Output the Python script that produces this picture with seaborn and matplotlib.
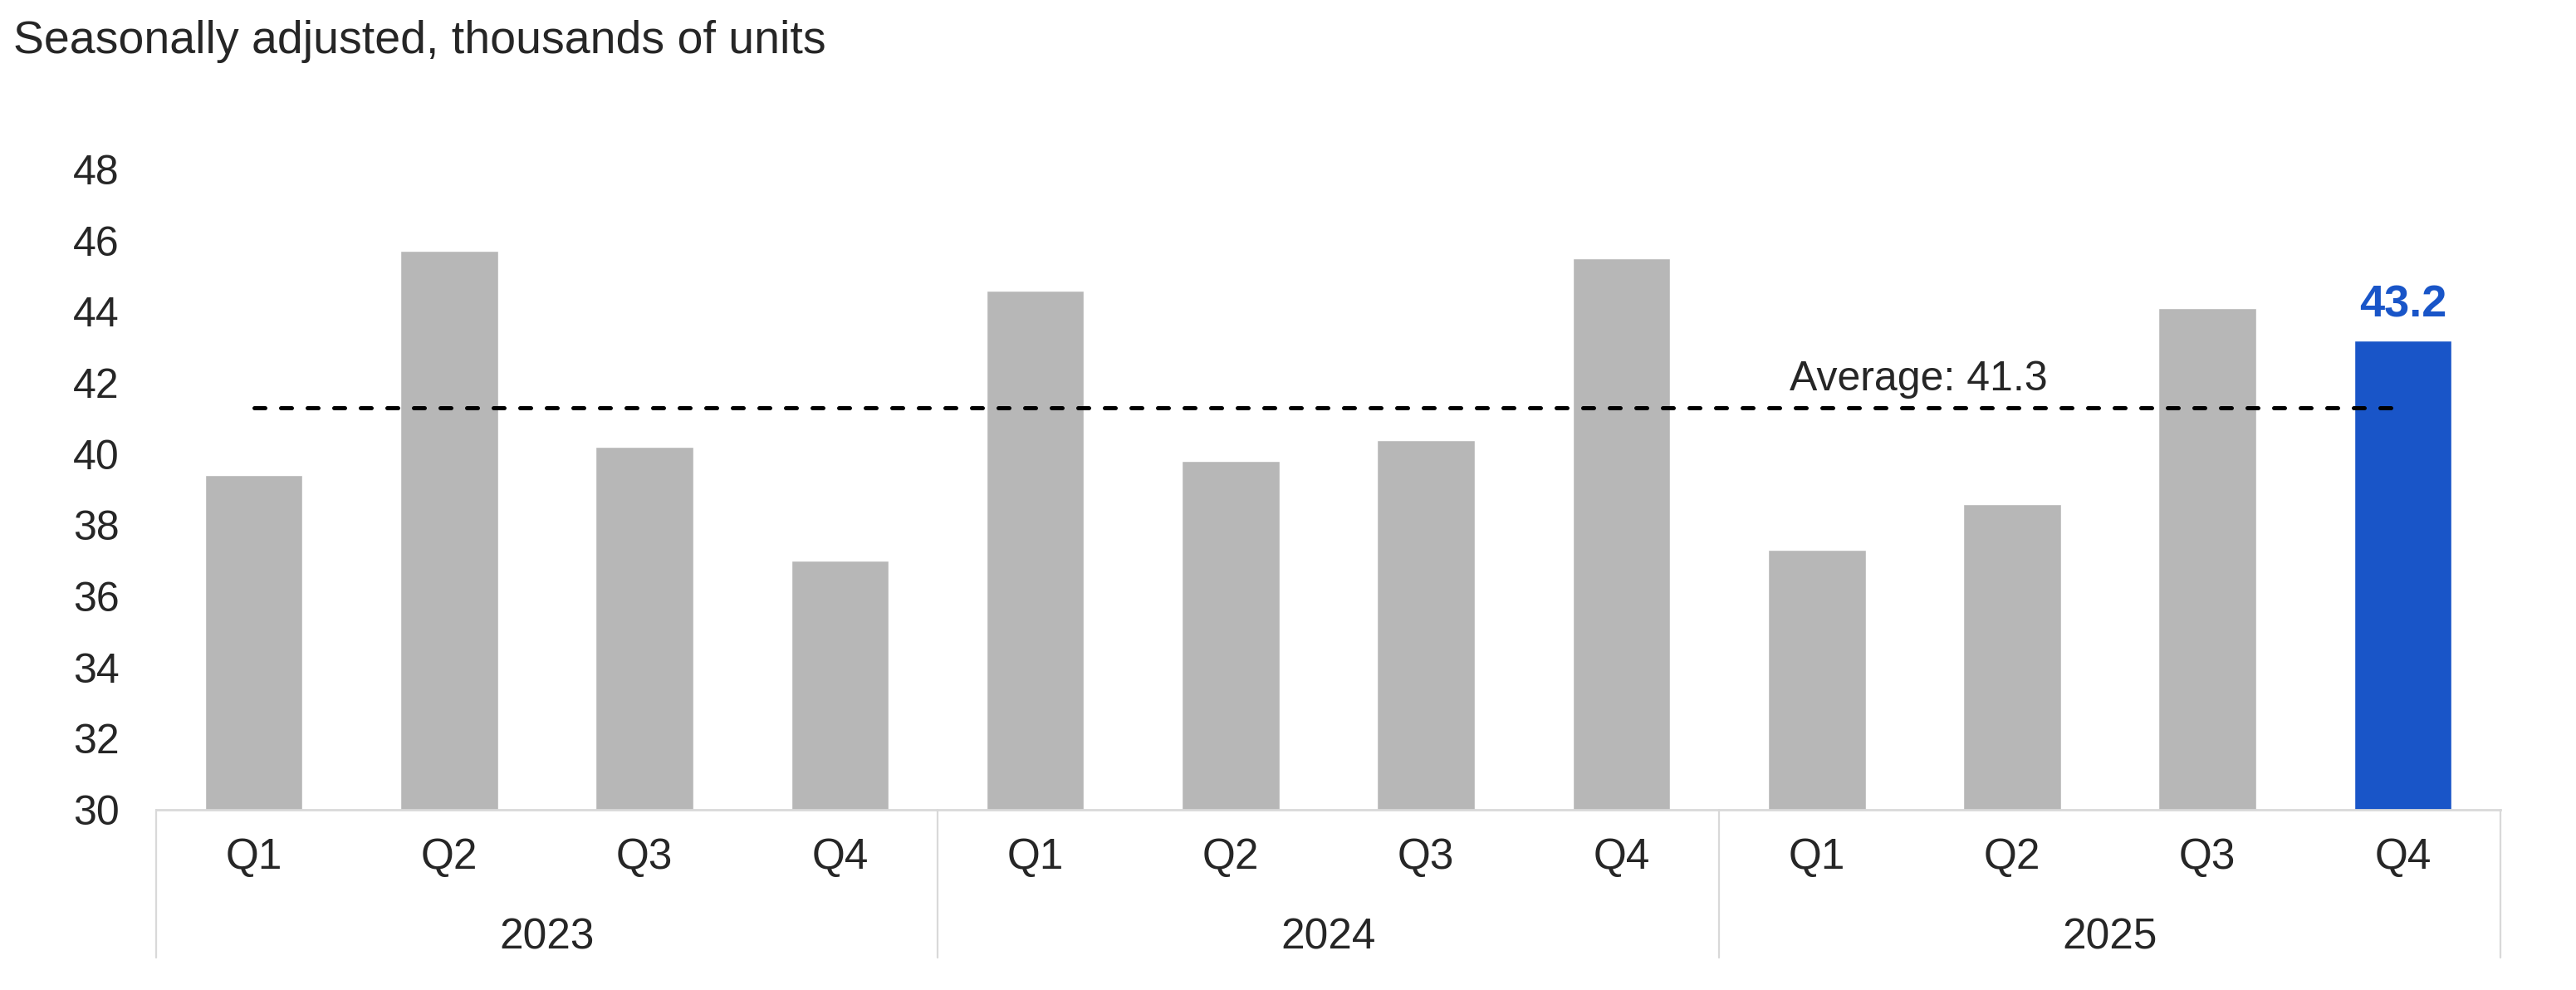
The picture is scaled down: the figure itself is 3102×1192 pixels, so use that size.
import matplotlib
matplotlib.use("Agg")
import matplotlib.pyplot as plt
import matplotlib.transforms as mtransforms
import pandas as pd
import seaborn as sns

# ---------------------------------------------------------------------
# DATA
# ---------------------------------------------------------------------
years = ["2023", "2024", "2025"]
quarters = ["Q1", "Q2", "Q3", "Q4"]
values = [39.4, 45.7, 40.2, 37.0,
          44.6, 39.8, 40.4, 45.5,
          37.3, 38.6, 44.1, 43.2]
average = 41.3
title = "Seasonally adjusted, thousands of units"
yticks = [30, 32, 34, 36, 38, 40, 42, 44, 46, 48]

GRAY = "#B7B7B7"
BLUE = "#1955C8"
AXIS_GRAY = "#D9D9D9"
FONT = ["Liberation Sans", "DejaVu Sans"]

periods = [f"{y} {q}" for y in years for q in quarters]
df = pd.DataFrame({"period": periods, "value": values})
palette = {p: GRAY for p in periods}
palette[periods[-1]] = BLUE

# ---------------------------------------------------------------------
# PLOT
# ---------------------------------------------------------------------
sns.set_style("white")
plt.rcParams["font.family"] = FONT

fig = plt.figure(figsize=(31.02, 11.92), dpi=100)
ax = fig.add_axes([0.0606, 0.182, 0.9101, 0.6469])

sns.barplot(data=df, x="period", y="value", hue="period", palette=palette,
            width=0.5, saturation=1, legend=False, ax=ax)

ax.set_ylim(30, 48)
ax.set_xlim(-0.5, len(periods) - 0.5)
ax.set_xlabel("")
ax.set_ylabel("")

for side in ["top", "right", "left"]:
    ax.spines[side].set_visible(False)
ax.spines["bottom"].set_color(AXIS_GRAY)
ax.spines["bottom"].set_linewidth(2)

ax.set_yticks(yticks)
ax.set_yticklabels([str(t) for t in yticks], fontsize=36)
ax.tick_params(axis="y", length=0, pad=32)

ax.set_xticks(range(len(periods)))
ax.set_xticklabels(quarters * len(years), fontsize=37)
ax.tick_params(axis="x", length=0, pad=24)

# year labels and group separators
trans = mtransforms.blended_transform_factory(ax.transData, ax.transAxes)
for i, yr in enumerate(years):
    ax.text(i * 4 + 1.5, -0.20, yr, transform=trans, ha="center", va="center",
            fontsize=37)
for i in range(len(years) + 1):
    xs = i * 4 - 0.5
    ax.plot([xs, xs], [0, -0.231], transform=trans, color=AXIS_GRAY,
            lw=1.6, clip_on=False)

# average line
ax.plot([0.0, 10.94], [average, average], color="black", lw=3.6,
        dashes=(2.6, 3.8), dash_capstyle="round")
ax.text(7.86, 41.8, f"Average: {average:.1f}", fontsize=36, ha="left",
        va="baseline")

# highlight label on last bar
ax.annotate(f"{values[-1]:.1f}", xy=(len(periods) - 1, values[-1]),
            xytext=(0, 20), textcoords="offset points", ha="center",
            va="baseline", fontsize=39, fontweight="bold", color=BLUE)

fig.text(0.005, 1 - 24 / 1192, title, fontsize=40, ha="left", va="top")

fig.savefig("out.png", dpi=100)
plt.close(fig)
